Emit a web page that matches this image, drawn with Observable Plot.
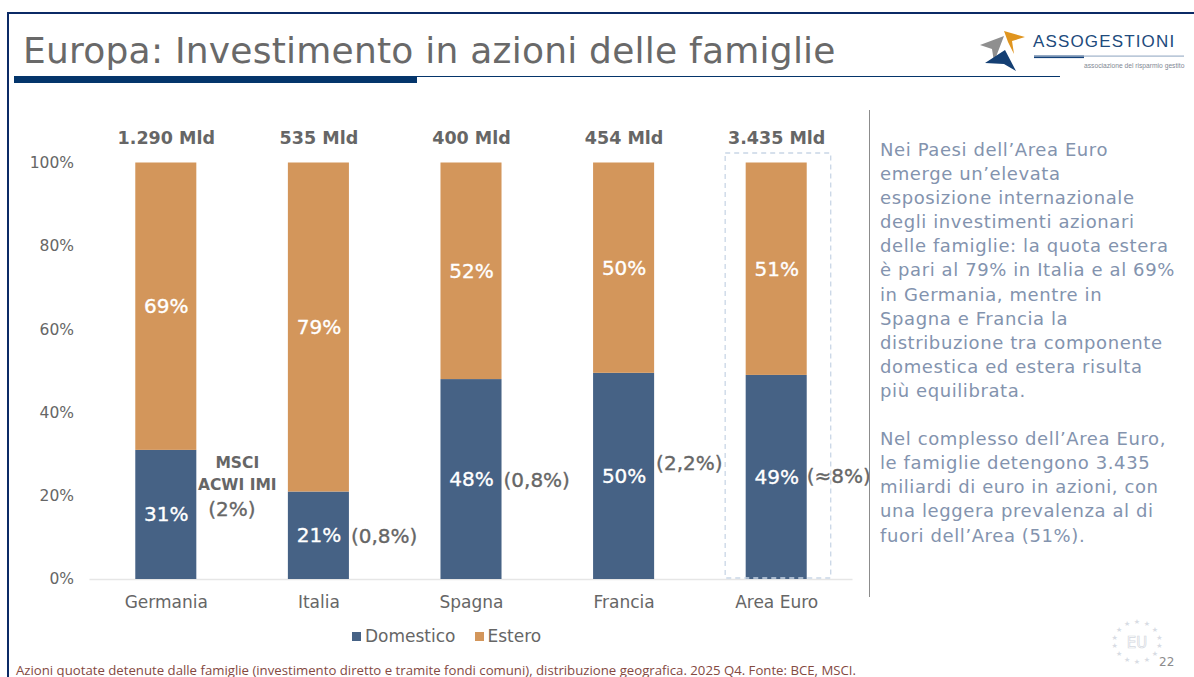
<!DOCTYPE html>
<html><head><meta charset="utf-8">
<script src="https://cdn.jsdelivr.net/npm/d3@7"></script>
<script src="https://cdn.jsdelivr.net/npm/@observablehq/plot@0.6"></script>
<style>
html,body{margin:0;padding:0;background:#fff;width:1194px;height:677px;overflow:hidden;font-family:"DejaVu Sans",sans-serif}
#chart{position:absolute;left:0;top:0}
.abs{position:absolute;white-space:nowrap}
#frame{left:7px;top:12px;width:1187px;height:665px;border-left:2px solid #0b2a66;border-top:2px solid #0b2a66;box-sizing:border-box}
#title{left:23px;top:28px;font-size:36px;line-height:46px;color:#696969;letter-spacing:.23px}
#bar1{left:14px;top:76px;width:403px;height:7px;background:#04356b}
#bar2{left:14px;top:75.5px;width:1046px;height:1.5px;background:#04356b}
#side{left:880px;top:138px;font-size:18px;line-height:24.1px;color:#8393ae;letter-spacing:.6px}
#divider{left:869px;top:110px;width:1px;height:487px;background:#8c8c8c}
#legend{left:352px;top:624px;font-size:17px;line-height:24px;color:#666;display:flex;align-items:center}
#legend i{display:inline-block;width:9px;height:9px;margin-right:4px}
#caption{left:16px;top:664px;font-family:"Open Sans",sans-serif;font-size:13.2px;line-height:13px;color:#84493f}
#page{left:1159px;top:654px;font-size:12px;line-height:16px;color:#8c8c8c}
#logo{left:978px;top:28px}
#eu{left:1110px;top:618px}
</style></head><body>
<div id="frame" class="abs"></div>
<div id="title" class="abs">Europa: Investimento in azioni delle famiglie</div>
<div id="bar2" class="abs"></div><div id="bar1" class="abs"></div>
<svg id="logo" class="abs" width="212" height="50" viewBox="0 0 212 50">
<polygon points="2,17 26,8 16,34 14,21" fill="#8f8f8f"/>
<polygon points="26,3 47,9 34,13 36,26 30,14" fill="#e0951f"/>
<polygon points="7,35 27,22 38,43 26,36" fill="#143f73"/>
<text x="55" y="19" font-family="'Liberation Sans',sans-serif" font-size="17" letter-spacing="1.15" fill="#204a7c">ASSOGESTIONI</text>
<rect x="56" y="27.5" width="50" height="2.6" fill="#14427a"/><rect x="56" y="27.5" width="150" height="1.2" fill="#9fb2c9"/>
<text x="106" y="40" font-family="'Liberation Sans',sans-serif" font-size="6.7" fill="#7f8894">associazione del risparmio gestito</text>
</svg>
<div id="chart"></div>
<div id="divider" class="abs"></div>
<div id="side" class="abs"></div>
<div id="legend" class="abs"></div>
<div id="caption" class="abs">Azioni quotate detenute dalle famiglie (investimento diretto e tramite fondi comuni), distribuzione geografica. 2025 Q4. Fonte: BCE, MSCI.</div>
<svg id="eu" class="abs" width="56" height="60" viewBox="0 0 56 60"></svg>
<div id="page" class="abs">22</div>
<script>
const countries = ["Germania","Italia","Spagna","Francia","Area Euro"];
const domestico = [31,21,48,49.5,49];
const estero = [69,79,52,50.5,51];
const domesticoLabels = ["31%","21%","48%","50%","49%"];
const esteroLabels = ["69%","79%","52%","50%","51%"];
const totals = ["1.290 Mld","535 Mld","400 Mld","454 Mld","3.435 Mld"];
const notes = ["(2%)","(0,8%)","(0,8%)","(2,2%)","(≈8%)"];
const noteY = [16.7,10.3,23.7,27.8,24.7];
const seriesNames = ["Domestico","Estero"];
const seriesColors = ["#466285","#d3965b"];
const sideLines = ["Nei Paesi dell’Area Euro","emerge un’elevata","esposizione internazionale","degli investimenti azionari","delle famiglie: la quota estera","è pari al 79% in Italia e al 69%","in Germania, mentre in","Spagna e Francia la","distribuzione tra componente","domestica ed estera risulta","più equilibrata.","","Nel complesso dell’Area Euro,","le famiglie detengono 3.435","miliardi di euro in azioni, con","una leggera prevalenza al di","fuori dell’Area (51%)."];

const rows = countries.flatMap((c,i)=>[
 {country:c,serie:seriesNames[0],value:domestico[i],label:domesticoLabels[i]},
 {country:c,serie:seriesNames[1],value:estero[i],label:esteroLabels[i]}]);
const notesData = countries.map((c,i)=>({country:c,note:notes[i],y:noteY[i]}));
const totalsData = countries.map((c,i)=>({country:c,total:totals[i]}));
const noteStyle = {x:"country",y:"y",text:"note",textAnchor:"start",fontSize:20,fill:"#666",stroke:"#666",strokeWidth:.35};
const mscStyle = {x:d=>d,dx:71,fontSize:15.5,fontWeight:"bold",fill:"#666"};

const font = '"DejaVu Sans",sans-serif';
const plot = Plot.plot({
 width:1194,height:677,
 marginLeft:89.5,marginRight:341.5,marginTop:162.5,marginBottom:98,
 style:{background:"transparent",fontFamily:font},
 x:{domain:countries,paddingInner:0.6,paddingOuter:0.3,align:0.5,round:false,label:null},
 y:{domain:[0,100],label:null},
 color:{domain:seriesNames,range:seriesColors},
 marks:[
  Plot.axisY({ticks:[0,20,40,60,80,100],tickFormat:d=>d+"%",tickSize:0,tickPadding:16,fontSize:15.5,color:"#666",label:null}),
  Plot.axisX({tickSize:0,tickPadding:16,fontSize:17,color:"#666",label:null}),
  Plot.ruleY([0],{stroke:"#e6e6e6",strokeWidth:1.5}),
  Plot.barY(rows,{x:"country",y:"value",fill:"serie"}),
  Plot.text(rows,Plot.stackY({x:"country",y:"value",z:"serie",text:"label",fill:"#fff",stroke:"#fff",strokeWidth:.35,fontSize:20})),
  Plot.barY(countries.slice(-1),{x:d=>d,y1:()=>0,y2:()=>100,fill:"none",stroke:"#c9d6e6",strokeWidth:1.3,strokeDasharray:"5 4",insetLeft:-20.5,insetRight:-24,insetTop:-9.5,insetBottom:1}),
  Plot.text(totalsData,{x:"country",y:()=>100,text:"total",dy:-25,fontSize:17.5,fontWeight:"bold",fill:"#666"}),
  Plot.text(notesData.slice(0,1),{...noteStyle,dx:42}),
  Plot.text(notesData.slice(1,4),{...noteStyle,dx:32}),
  Plot.text(notesData.slice(4),{...noteStyle,dx:30}),
  Plot.text(["Germania"],{...mscStyle,y:()=>28,text:()=>"MSCI"}),
  Plot.text(["Germania"],{...mscStyle,y:()=>22.7,text:()=>"ACWI IMI"})
 ]
});
document.getElementById("chart").appendChild(plot);
document.getElementById("side").innerHTML = sideLines.map(l=>l||"&nbsp;").join("<br>");
document.getElementById("legend").innerHTML = seriesNames.map((n,i)=>`<i style="background:${seriesColors[i]}"></i><span style="margin-right:${i?0:19}px">${n}</span>`).join("");
const eu=document.getElementById("eu");
let s=`<text x="27" y="29.5" text-anchor="middle" font-size="15" fill="#fff" stroke="#d4d8e0" stroke-width=".7">EU</text>`;
for(let k=0;k<14;k++){const a=k/14*2*Math.PI;s+=`<text x="${27+23*Math.sin(a)}" y="${26-20*Math.cos(a)}" text-anchor="middle" font-size="7" fill="#d8dce4">★</text>`}
eu.innerHTML=s;
</script>
</body></html>
